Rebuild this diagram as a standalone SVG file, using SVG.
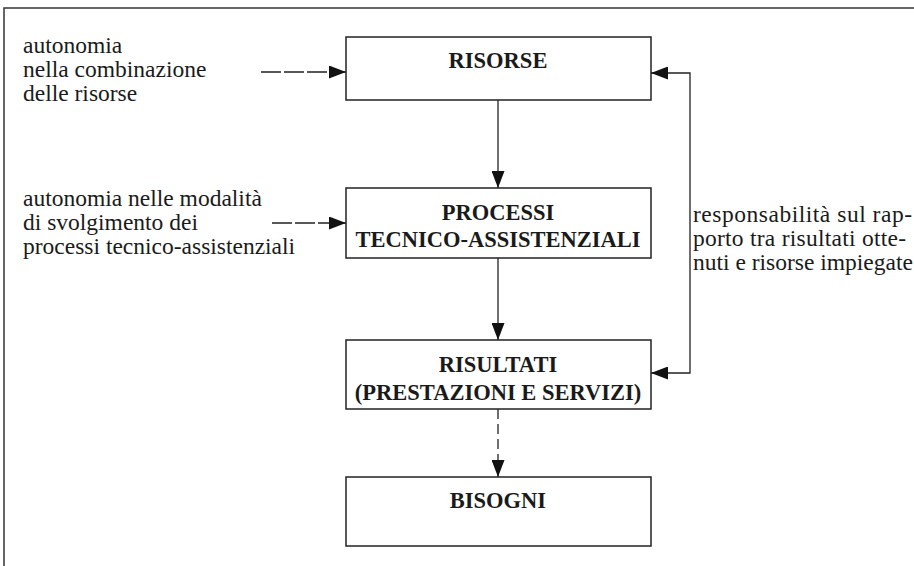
<svg xmlns="http://www.w3.org/2000/svg" width="914" height="566" viewBox="0 0 914 566">
  <style>
    .frame { fill: none; stroke: #333; stroke-width: 1.5; }
    .box { fill: #fff; stroke: #222; stroke-width: 1.5; }
    .title { font-family: "Liberation Serif", "Times New Roman", serif; font-weight: bold; font-size: 22.5px; fill: #1a1a1a; text-anchor: middle; }
    .label { font-family: "Liberation Serif", "Times New Roman", serif; font-weight: normal; font-size: 23.5px; fill: #1a1a1a; }
    .solid { fill: none; stroke: #222; stroke-width: 1.3; }
    .dashed { fill: none; stroke: #222; stroke-width: 1.3; stroke-dasharray: 20 3; }
    .dashed-v { fill: none; stroke: #222; stroke-width: 1.3; stroke-dasharray: 10 5; }
  </style>
  <defs>
    <marker id="head" viewBox="0 0 17 13" refX="17" refY="6.5" markerWidth="17" markerHeight="13" markerUnits="userSpaceOnUse" orient="auto-start-reverse">
      <path d="M0,0 L17,6.5 L0,13 Z" fill="#111"/>
    </marker>
  </defs>

  <rect width="914" height="566" fill="#fff"/>

  <!-- outer frame: top and left edges only -->
  <path class="frame" d="M4,566 V8 H914"/>

  <g id="risorse">
    <rect class="box" x="346" y="37" width="305" height="63"/>
    <text class="title" x="498" y="68">RISORSE</text>
  </g>

  <g id="processi">
    <rect class="box" x="346" y="188" width="305" height="70"/>
    <text class="title" x="498" y="220">PROCESSI</text>
    <text class="title" x="498" y="247">TECNICO-ASSISTENZIALI</text>
  </g>

  <g id="risultati">
    <rect class="box" x="346" y="340" width="305" height="69"/>
    <text class="title" x="498" y="372">RISULTATI</text>
    <text class="title" x="498" y="400">(PRESTAZIONI E SERVIZI)</text>
  </g>

  <g id="bisogni">
    <rect class="box" x="346" y="477" width="305" height="69"/>
    <text class="title" x="498" y="508">BISOGNI</text>
  </g>

  <g id="note-combinazione">
    <text class="label" x="23" y="53">autonomia</text>
    <text class="label" x="23" y="77">nella combinazione</text>
    <text class="label" x="23" y="101">delle risorse</text>
  </g>

  <g id="note-modalita">
    <text class="label" x="23" y="206">autonomia nelle modalità</text>
    <text class="label" x="23" y="230">di svolgimento dei</text>
    <text class="label" x="23" y="254">processi tecnico-assistenziali</text>
  </g>

  <g id="note-responsabilita">
    <text class="label" x="693" y="222" textLength="219" lengthAdjust="spacing">responsabilità sul rap-</text>
    <text class="label" x="693" y="246" textLength="213" lengthAdjust="spacing">porto tra risultati otte-</text>
    <text class="label" x="693" y="270">nuti e risorse impiegate</text>
  </g>

  <g id="connectors">
    <path class="solid" d="M498,100 V188" marker-end="url(#head)"/>
    <path class="solid" d="M498,258 V340" marker-end="url(#head)"/>
    <path class="dashed-v" d="M498,409 V477" marker-end="url(#head)"/>
    <path class="dashed" d="M261,72 H346" marker-end="url(#head)"/>
    <path class="dashed" d="M272,223 H346" marker-end="url(#head)"/>
    <path class="solid" d="M651,373 H690 V73 H651" marker-start="url(#head)" marker-end="url(#head)"/>
  </g>
</svg>
